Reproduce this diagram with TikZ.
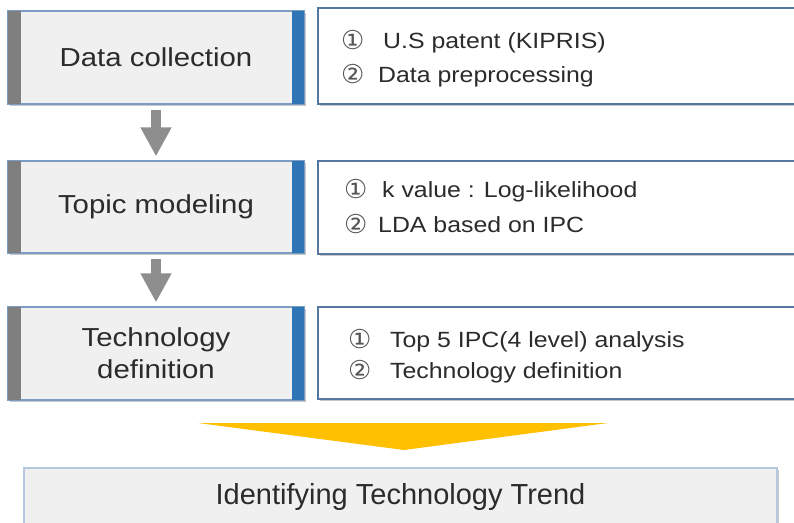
\documentclass[tikz,border=0pt]{standalone}
\usepackage{fontspec}
\setmainfont{Liberation Sans}[FakeStretch=1.13]
\newfontfamily\plainsans{Liberation Sans}
\newfontfamily\dejavu{DejaVu Sans}
\usetikzlibrary{shadows,arrows.meta}
\definecolor{boxfill}{HTML}{F0F0F0}
\definecolor{lborder}{HTML}{7D9CC4}
\definecolor{rborder}{HTML}{56779F}
\definecolor{bborder}{HTML}{B4C8DE}
\definecolor{graybar}{HTML}{7F7F7F}
\definecolor{bluebar}{HTML}{2E75B6}
\definecolor{arrowgray}{HTML}{8E8E8E}
\definecolor{gold}{HTML}{FFC000}
\definecolor{txt}{HTML}{2B2B2B}
\definecolor{numcol}{HTML}{555555}
\newcommand\cnum[1]{\makebox[15pt][l]{\hspace{-2pt}\raisebox{-1.5pt}{\color{numcol}\dejavu\fontsize{26}{26}\selectfont #1}}}
\tikzset{
  shad/.style={drop shadow={shadow xshift=1.5pt, shadow yshift=-2pt, fill=black, opacity=0.22}},
  lbox/.style={shad, draw=lborder, line width=1.2pt, fill=boxfill, minimum width=296pt,
    inner sep=0pt, align=center, text=txt, font=\fontsize{26}{32}\selectfont},
  rbox/.style={shad, draw=rborder, line width=1.8pt, fill=white, minimum width=502pt, inner sep=0pt},
  bbox/.style={shad, draw=bborder, line width=1.4pt, fill=boxfill, minimum width=753pt,
    minimum height=57pt, inner sep=0pt, text=txt, font=\plainsans\fontsize{29}{32}\selectfont},
  rtext/.style={anchor=base west, inner sep=0pt, text=txt, font=\fontsize{22}{34}\selectfont},
  garrow/.style={draw=arrowgray, line width=10pt, -{Triangle[width=29pt,length=29pt]}},
}
\begin{document}
\begin{tikzpicture}[x=1pt,y=-1pt]
\useasboundingbox (0,0) rectangle (794,522);
\fill[white] (0,0) rectangle (794,522);

% left boxes
\node[lbox, minimum height=93pt] (dc) at (156,57.5) {Data collection};
\node[lbox, minimum height=92pt] (tm) at (156,207) {Topic modeling};
\node[lbox, minimum height=93pt] (td) at (156,353.5) {Technology\\definition};

\foreach \n in {dc,tm,td}{
  \fill[graybar] ([shift={(0.6pt,-0.6pt)}]\n.north west) rectangle ([shift={(14pt,0.6pt)}]\n.south west);
  \fill[bluebar] ([shift={(-13pt,-0.6pt)}]\n.north east) rectangle ([shift={(-0.6pt,0.6pt)}]\n.south east);
}

% right boxes
\node[rbox, minimum height=96pt] (dcR) at (569,56) {};
\node[rbox, minimum height=93pt] (tmR) at (569,207.5) {};
\node[rbox, minimum height=92pt] (tdR) at (569,353) {};

\node[rtext] (dcR1) at (343,48) {\cnum{①}\hspace{25pt}U.S patent (KIPRIS)};
\node[rtext] (dcR2) at (343,82) {\cnum{②}\hspace{20pt}Data preprocessing};
\node[rtext] (tmR1) at (346,197) {\cnum{①}\hspace{21pt}k value : Log-likelihood};
\node[rtext] (tmR2) at (346,232) {\cnum{②}\hspace{17pt}LDA based on IPC};
\node[rtext] (tdR1) at (350,347) {\cnum{①}\hspace{25pt}Top 5 IPC(4 level) analysis};
\node[rtext] (tdR2) at (350,378) {\cnum{②}\hspace{25pt}Technology definition};

% gray arrows
\draw[garrow] ([yshift=-5pt]dc.south) -- ([yshift=4pt]tm.north);
\draw[garrow] ([yshift=-5pt]tm.south) -- ([yshift=4pt]td.north);

% bottom box
\node[bbox] (bt) at (400.5,496.5) {Identifying Technology Trend};

% yellow triangle
\coordinate (yl) at (198,423);
\coordinate (yr) at (608,423);
\coordinate (ya) at (404,450);
\fill[gold] (yl) -- (yr) -- (ya) -- cycle;
\end{tikzpicture}
\end{document}
